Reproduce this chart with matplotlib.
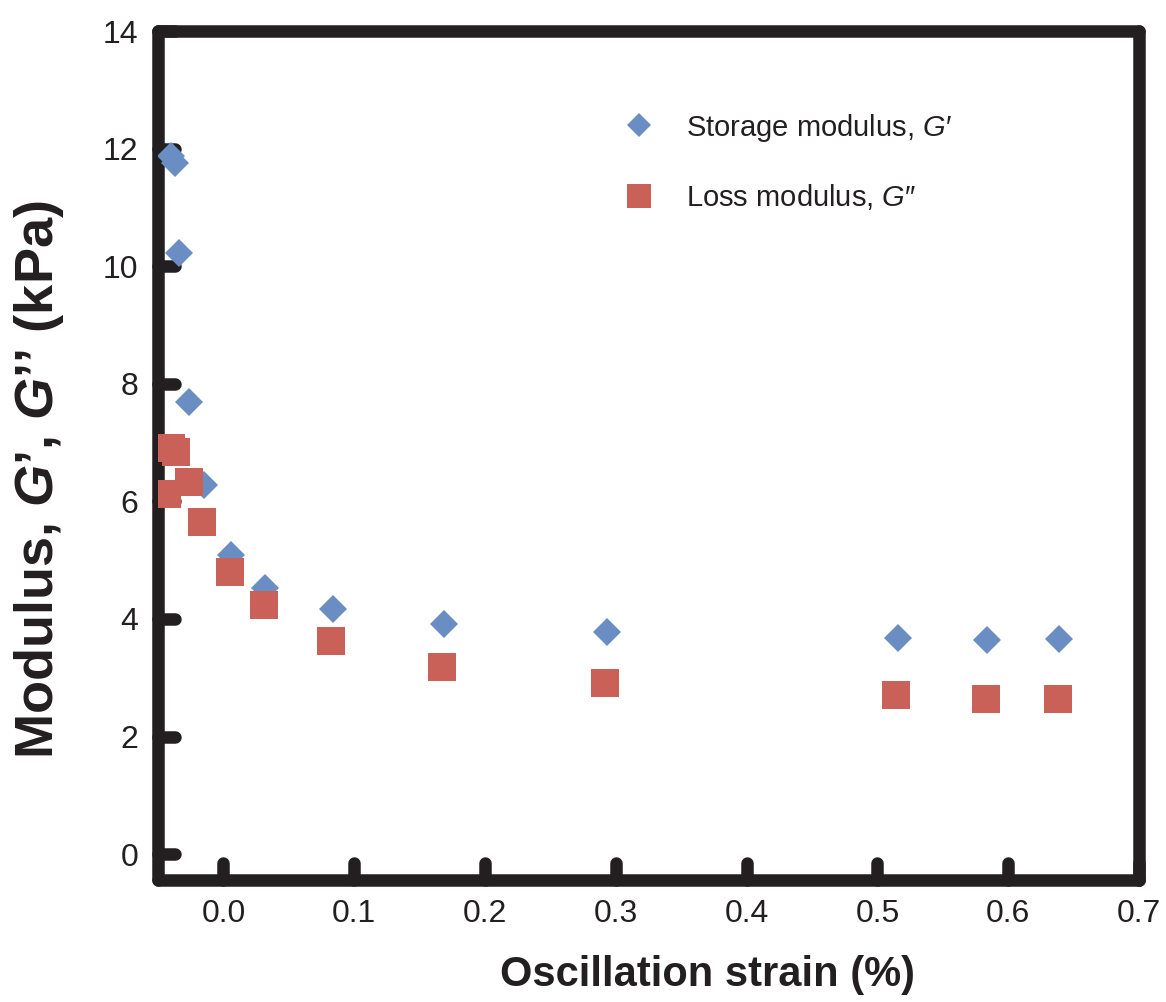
import matplotlib
matplotlib.use("Agg")
import matplotlib.pyplot as plt
import matplotlib.lines as mlines
from matplotlib.markers import MarkerStyle

plt.rcParams['font.family'] = ['Liberation Sans', 'DejaVu Sans']
plt.rcParams['mathtext.fontset'] = 'custom'
plt.rcParams['mathtext.it'] = 'Liberation Sans:italic'
plt.rcParams['mathtext.bf'] = 'Liberation Sans:bold:italic'
plt.rcParams['mathtext.rm'] = 'Liberation Sans'

# storage modulus G'
strain_g1 = [-0.040, -0.037, -0.034, -0.026, -0.015, 0.006, 0.032, 0.084, 0.169, 0.293, 0.516, 0.584, 0.639]
g_storage = [11.87, 11.75, 10.22, 7.69, 6.28, 5.09, 4.52, 4.17, 3.91, 3.78, 3.67, 3.64, 3.66]

# loss modulus G''
strain_g2 = [-0.043, -0.040, -0.036, -0.026, -0.016, 0.005, 0.031, 0.082, 0.167, 0.292, 0.514, 0.583, 0.638]
g_loss = [6.12, 6.90, 6.84, 6.33, 5.65, 4.80, 4.23, 3.62, 3.18, 2.91, 2.70, 2.64, 2.64]

xticks = [0.0, 0.1, 0.2, 0.3, 0.4, 0.5, 0.6, 0.7]
yticks = [0, 2, 4, 6, 8, 10, 12, 14]

blue = '#6A8DC4'
red = '#CA6158'
dark = '#231F20'

fig = plt.figure(figsize=(11.66, 10.02), dpi=100)
ax = fig.add_axes([0.1355, 0.1218, 0.8414, 0.8472])

ax.plot(strain_g1, g_storage, 'D', color=blue, ms=14, mew=0, label="Storage modulus, $G$′", zorder=3)
ax.plot(strain_g2, g_loss, 's', color=red, ms=20, mew=0, label="Loss modulus, $G$″", zorder=4)

ax.set_xlim(-0.05, 0.7)
ax.set_ylim(-0.44, 14)
ax.set_xticks(xticks)
ax.set_yticks(yticks)
ax.set_xticklabels(["%.1f" % v for v in xticks])
ax.set_yticklabels([str(v) for v in yticks])

for s in ax.spines.values():
    s.set_linewidth(9)
    s.set_color(dark)
    s.set_capstyle('round')

ax.tick_params(direction='in', length=12, width=9, color=dark, labelsize=23,
               labelcolor=dark, top=False, right=False)
ax.tick_params(axis='x', pad=14)
ax.tick_params(axis='y', pad=14)

ax.set_xlabel("Oscillation strain (%)", fontsize=30, fontweight='bold', color=dark)
ax.xaxis.set_label_coords(0.5596, -0.088)
ax.set_ylabel(r"Modulus, $\mathbf{G}$’, $\mathbf{G}$’’ (kPa)", fontsize=39, fontweight='bold', color=dark)
ax.yaxis.set_label_coords(-0.094, 0.471)

leg = ax.legend(loc='upper left', bbox_to_anchor=(0.434, 0.936), frameon=False, fontsize=21,
                handletextpad=0.6, labelspacing=1.31, markerscale=0.86, labelcolor=dark)

for t in ax.yaxis.get_major_ticks():
    t.tick1line.set_marker(MarkerStyle(mlines.TICKRIGHT, capstyle='round'))
for t in ax.xaxis.get_major_ticks():
    t.tick1line.set_marker(MarkerStyle(mlines.TICKUP, capstyle='round'))

fig.savefig("out.png", dpi=100)
